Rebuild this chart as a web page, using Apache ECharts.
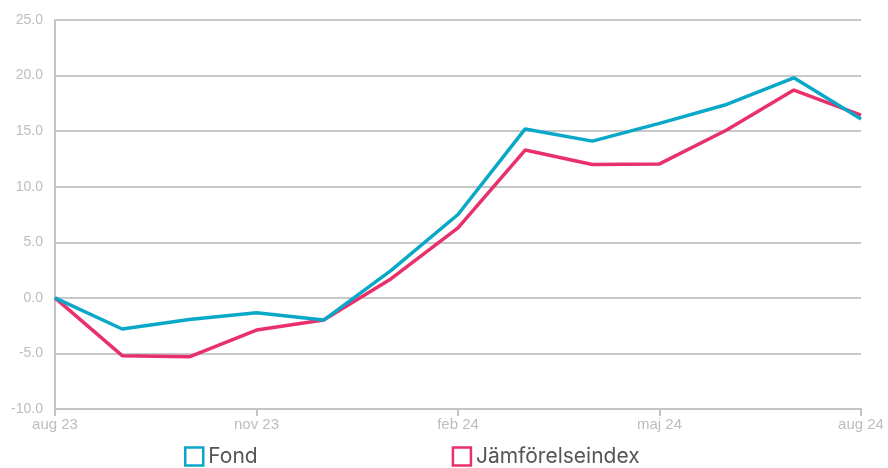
<!DOCTYPE html>
<html>
<head>
<meta charset="utf-8" />
<script src="https://cdn.jsdelivr.net/npm/echarts@6/dist/echarts.min.js"></script>
<title>Fond vs index</title>
<style type="text/css">
* {margin:0; padding:0;}
body {background:#fff;}
#chart {width:888px; height:468px;}
</style>
</head>
<body>
<div id="chart"></div>
<script>
var months = ['aug 23','sep 23','okt 23','nov 23','dec 23','jan 24','feb 24','mar 24','apr 24','maj 24','jun 24','jul 24','aug 24'];
var fond = [0, -2.8, -1.95, -1.35, -2.0, 2.45, 7.5, 15.2, 14.1, 15.7, 17.4, 19.8, 16.1];
var index = [0, -5.2, -5.3, -2.9, -2.0, 1.7, 6.3, 13.3, 12.0, 12.05, 15.1, 18.7, 16.45];

var chart = echarts.init(document.getElementById('chart'));
chart.setOption({
	animation: false,
	grid: {left: 55, right: 27, top: 20, bottom: 59},
	legend: {
		bottom: 1,
		left: 184,
		padding: 0,
		itemWidth: 18,
		itemHeight: 18,
		itemGap: 194,
		icon: 'rect',
		textStyle: {fontSize: 21, color: '#555', fontFamily: 'Inter'},
		data: [
			{name: 'Fond', itemStyle: {color: 'transparent', borderColor: '#0aa8c8', borderWidth: 2.5}},
			{name: 'Jämförelseindex', itemStyle: {color: 'transparent', borderColor: '#e8306a', borderWidth: 2.5}}
		]
	},
	xAxis: {
		type: 'category',
		data: months,
		boundaryGap: false,
		axisLine: {onZero: false, lineStyle: {color: '#c4c4c4', width: 2}},
		axisTick: {interval: 2, length: 7, lineStyle: {color: '#c4c4c4', width: 2}},
		axisLabel: {interval: 2, color: '#bdbdbd', fontSize: 15, margin: 8, fontFamily: 'Liberation Sans'}
	},
	yAxis: {
		type: 'value',
		min: -10,
		max: 25,
		interval: 5,
		axisLine: {show: true, lineStyle: {color: '#c4c4c4', width: 2}},
		axisTick: {show: false},
		axisLabel: {color: '#bdbdbd', fontSize: 14, margin: 12, fontFamily: 'Liberation Sans',
			formatter: function (v) { return v.toFixed(1); }},
		splitLine: {lineStyle: {color: '#c8c8c8', width: 2}}
	},
	series: [
		{name: 'Fond', type: 'line', data: fond, showSymbol: false, z: 3,
			lineStyle: {color: '#0aa8c8', width: 3.5}, itemStyle: {color: '#0aa8c8'}},
		{name: 'Jämförelseindex', type: 'line', data: index, showSymbol: false, z: 2,
			lineStyle: {color: '#e8306a', width: 3.5}, itemStyle: {color: '#e8306a'}}
	]
});
</script>
</body>
</html>
